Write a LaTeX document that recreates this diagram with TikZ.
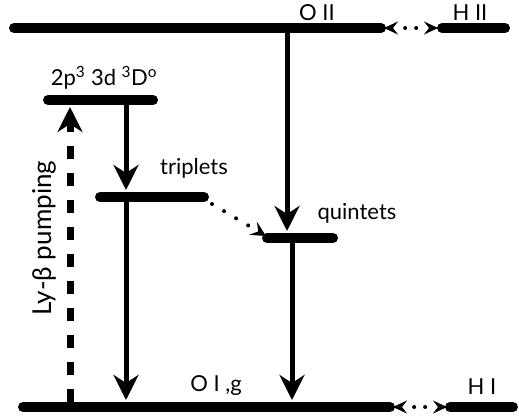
\documentclass[tikz,border=0pt]{standalone}
\usepackage{fontspec}
\setmainfont{Lato}
\usetikzlibrary{arrows.meta}
\begin{document}
\begin{tikzpicture}[x=1pt,y=-1pt,
  bar/.style={line width=10pt,line cap=round},
  arr/.style={line width=5pt,-{Stealth[length=25pt,width=25pt,inset=8pt]}},
  dasharr/.style={line width=7pt,dash pattern=on 13pt off 14pt,-{Stealth[length=25pt,width=25pt,inset=8pt]}},
  dotarr/.style={line width=4pt,line cap=round,dash pattern=on 0pt off 14pt,-{Stealth[length=15pt,width=15pt,inset=6pt]}},
  dotdbl/.style={line width=4pt,line cap=round,dash pattern=on 0pt off 14pt on 0pt off 11pt on 0pt off 80pt,dash phase=1pt,{Stealth[length=14pt,width=13pt,inset=5pt]}-{Stealth[length=14pt,width=13pt,inset=5pt]}},
  lbl/.style={font=\fontsize{22}{24}\selectfont,inner sep=0pt},
  sidelbl/.style={font=\fontsize{26}{28}\selectfont,inner sep=0pt,rotate=90}]
\useasboundingbox (0,0) rectangle (519,418);
% bar end coordinates
\coordinate (oiiL) at (14,28);  \coordinate (oiiR) at (381,28);
\coordinate (hiiL) at (442,28); \coordinate (hiiR) at (505,28);
\coordinate (dL) at (48,100);   \coordinate (dR) at (153,100);
\coordinate (tL) at (100,197);  \coordinate (tR) at (204,197);
\coordinate (qL) at (267,238);  \coordinate (qR) at (333,238);
\coordinate (oiL) at (23,407);  \coordinate (oiR) at (390,407);
\coordinate (hiL) at (450,407); \coordinate (hiR) at (513,407);
% connector endpoints
\coordinate (a1s) at (287,33);  \coordinate (a1e) at (287,231);
\coordinate (a2s) at (126,105); \coordinate (a2e) at (126,190);
\coordinate (a3s) at (126,202); \coordinate (a3e) at (126,400);
\coordinate (a4s) at (292,243); \coordinate (a4e) at (292,400);
\coordinate (a5s) at (70,402);  \coordinate (a5e) at (70,107);
\coordinate (d1s) at (212,204); \coordinate (d1e) at (266,236);
\coordinate (h1s) at (384,28);  \coordinate (h1e) at (438,28);
\coordinate (h2s) at (393,407); \coordinate (h2e) at (447,407);
% bars
\draw[bar] (oiiL) -- (oiiR);
\draw[bar] (hiiL) -- (hiiR);
\draw[bar] (dL) -- (dR);
\draw[bar] (tL) -- (tR);
\draw[bar] (qL) -- (qR);
\draw[bar] (oiL) -- (oiR);
\draw[bar] (hiL) -- (hiR);
% arrows
\draw[arr] (a1s) -- (a1e);
\draw[arr] (a2s) -- (a2e);
\draw[arr] (a3s) -- (a3e);
\draw[arr] (a4s) -- (a4e);
\draw[dasharr] (a5s) -- (a5e);
\draw[dotarr] (d1s) -- (d1e);
\draw[dotdbl] (h1s) -- (h1e);
\draw[dotdbl] (h2s) -- (h2e);
% labels
\node[lbl] (loii) at (317,13) {O II};
\node[lbl] (lhii) at (470,13) {H II};
\node[lbl] (ld) at (104,78) {2p\textsuperscript{3} 3d \textsuperscript{3}D\textsuperscript{o}};
\node[lbl] (ltrip) at (194,168) {triplets};
\node[lbl] (lquin) at (357,213) {quintets};
\node[lbl] (loi) at (216,386) {O I ,g};
\node[lbl] (lhi) at (482,387) {H I};
\node[sidelbl] (lly) at (44,238) {Ly-β pumping};
\end{tikzpicture}
\end{document}
